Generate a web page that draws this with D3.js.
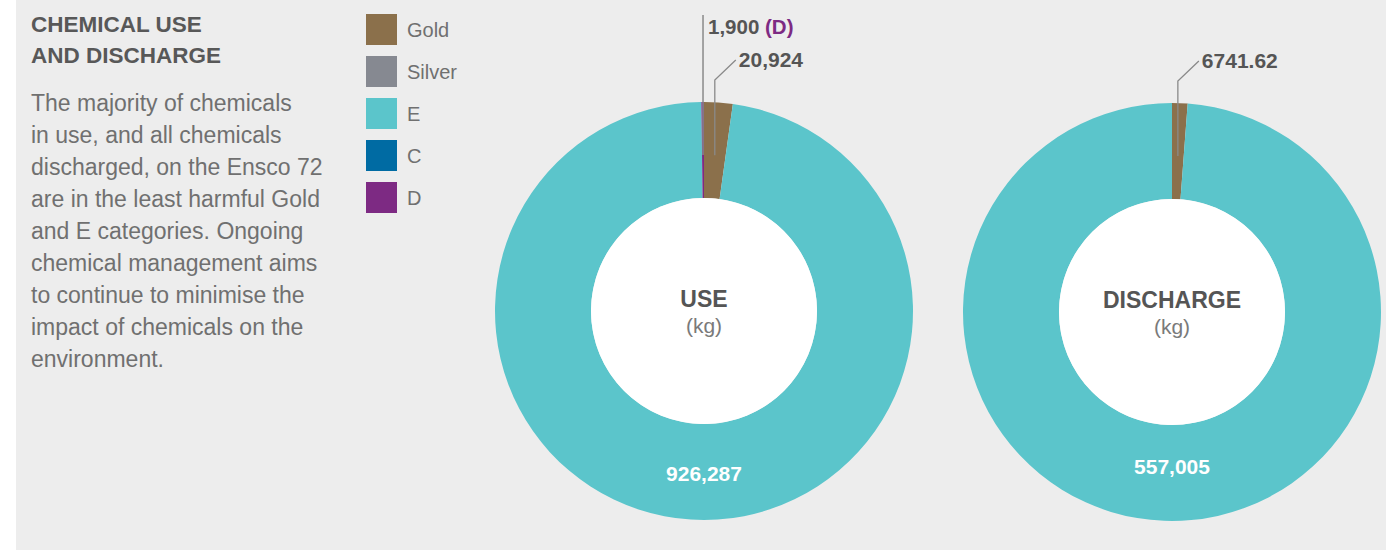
<!DOCTYPE html>
<html>
<head>
<meta charset="utf-8">
<script src="https://cdn.jsdelivr.net/npm/d3@7"></script>
<style>
  html, body { margin: 0; padding: 0; background: #ffffff; }
  svg { display: block; font-family: "Liberation Sans", Arial, Helvetica, sans-serif; }
</style>
</head>
<body>
<svg id="chart" width="1386" height="550"></svg>
<script>
// Chemical categories (OCNS ranking) and their colours
const categories = ["Gold", "Silver", "E", "C", "D"];
const categoryColors = ["#8b704b", "#868991", "#5bc5cb", "#006ba3", "#7d2a83"];

// Quantities in kg for each category
const useValues = [20924, 0, 926287, 0, 1900];
const dischargeValues = [6741.62, 0, 557005, 0, 0];

// Printed labels
const useLabels = ["20,924", "", "926,287", "", "1,900"];
const dischargeLabels = ["6741.62", "", "557,005", "", ""];

const titleLines = ["CHEMICAL USE", "AND DISCHARGE"];
const bodyLines = [
  "The majority of chemicals",
  "in use, and all chemicals",
  "discharged, on the Ensco 72",
  "are in the least harmful Gold",
  "and E categories. Ongoing",
  "chemical management aims",
  "to continue to minimise the",
  "impact of chemicals on the",
  "environment."
];

const svg = d3.select("#chart");
const color = d3.scaleOrdinal().domain(categories).range(categoryColors);

// panel background
svg.append("rect").attr("x", 16).attr("y", 0).attr("width", 1370).attr("height", 550).attr("fill", "#ededed");

// heading + description
const textG = svg.append("g");
textG.selectAll("text.title").data(titleLines).join("text")
  .attr("class", "title")
  .attr("x", 31).attr("y", (d, i) => 32 + i * 31)
  .attr("font-size", 22.5).attr("font-weight", "bold").attr("fill", "#585858")
  .text(d => d);
textG.selectAll("text.body").data(bodyLines).join("text")
  .attr("class", "body")
  .attr("x", 31).attr("y", (d, i) => 111 + i * 32)
  .attr("font-size", 23).attr("fill", "#707070")
  .text(d => d);

// legend
const legend = svg.append("g").attr("transform", "translate(366,14)");
const li = legend.selectAll("g").data(categories).join("g")
  .attr("transform", (d, i) => `translate(0,${i * 42})`);
li.append("rect").attr("width", 31).attr("height", 31).attr("fill", d => color(d));
li.append("text").attr("x", 41).attr("y", 23).attr("font-size", 20).attr("fill", "#707070").text(d => d);

const outerR = 209, innerR = 113, leaderR = 156, elbowR = 231;
const pie = d3.pie().sort(null).value(d => d.value);
const arc = d3.arc().innerRadius(innerR).outerRadius(outerR);

function donut(cx, cy, values, labels, title, ringLabelY) {
  const data = categories.map((c, i) => ({ cat: c, value: values[i], label: labels[i] }));
  const arcs = pie(data);
  const g = svg.append("g").attr("transform", `translate(${cx},${cy})`);
  g.selectAll("path").data(arcs.filter(a => a.data.value > 0)).join("path")
    .attr("d", arc).attr("fill", d => color(d.data.cat));

  // white centre
  g.append("circle").attr("r", innerR).attr("fill", "#ffffff");
  g.append("text").attr("y", -4).attr("text-anchor", "middle")
    .attr("font-size", 23).attr("font-weight", "bold").attr("fill", "#555").text(title);
  g.append("text").attr("y", 22).attr("text-anchor", "middle")
    .attr("font-size", 21).attr("fill", "#7a7a7a").text("(kg)");

  const pt = (a, r) => [r * Math.sin(a), -r * Math.cos(a)];

  arcs.forEach(a => {
    if (!a.data.value) return;
    const mid = (a.startAngle + a.endAngle) / 2;
    if (a.data.cat === "E") {
      // large slice: label in the ring near the bottom
      g.append("text").attr("x", 0).attr("y", ringLabelY)
        .attr("text-anchor", "middle").attr("font-size", 21).attr("font-weight", "bold")
        .attr("fill", "#ffffff").text(a.data.label);
    } else if (a.data.cat === "D") {
      const p = pt(mid, leaderR);
      g.append("line").attr("x1", p[0]).attr("y1", p[1]).attr("x2", p[0]).attr("y2", -296)
        .attr("stroke", "#8a8a8a").attr("stroke-width", 1.5);
      const t = g.append("text").attr("x", p[0] + 5).attr("y", -277)
        .attr("font-size", 20.5).attr("font-weight", "bold").attr("fill", "#555");
      t.append("tspan").text(a.data.label + " ");
      t.append("tspan").attr("fill", color("D")).text("(D)");
    } else {
      const p = pt(mid, leaderR);
      const e = [p[0], -elbowR];
      const end = [p[0] + 21, -elbowR - 20];
      g.append("path").attr("d", d3.line()([p, e, end]))
        .attr("fill", "none").attr("stroke", "#8a8a8a").attr("stroke-width", 1.3);
      g.append("text").attr("x", end[0] + 3).attr("y", end[1] + 7)
        .attr("font-size", 21).attr("font-weight", "bold").attr("fill", "#555").text(a.data.label);
    }
  });
}

donut(704, 311, useValues, useLabels, "USE", 170);
donut(1172, 312, dischargeValues, dischargeLabels, "DISCHARGE", 162);
</script>
</body>
</html>
